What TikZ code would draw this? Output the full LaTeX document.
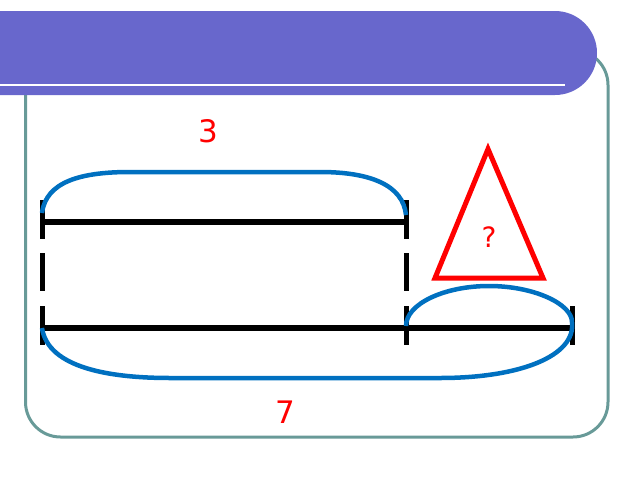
\documentclass[tikz,border=0pt]{standalone}
\usepackage{fontspec}
\setmainfont{DejaVu Sans}
\usepackage{tikz}

\definecolor{barcol}{RGB}{104,103,204}
\definecolor{framecol}{RGB}{104,154,152}
\definecolor{arccol}{RGB}{0,112,192}

\tikzset{
  seg/.style={line width=5.5pt},
  tick/.style={line width=5pt},
  brace/.style={arccol, line width=4.5pt},
  num/.style={text=red, inner sep=0pt, font=\fontsize{31}{36}\selectfont}
}

\begin{document}
\begin{tikzpicture}[x=1pt,y=-1pt]
\useasboundingbox (0,0) rectangle (640,480);

% frame and title bar
\draw[framecol, line width=3pt, rounded corners=35pt] (25.5,50) rectangle (608,437);
\fill[barcol] (0,11) -- (555,11) arc[start angle=90, end angle=-90, radius=42pt] -- (0,95) -- cycle;
\draw[white, line width=2.5pt] (0,85) -- (565,85);

\coordinate (1) at (42,222);
\coordinate (2) at (406,222);
\coordinate (3) at (42,328);
\coordinate (4) at (406,328);
\coordinate (5) at (572,328);

\draw[seg] (1)--(2);
\draw[seg] (3)--(5);

\foreach \point in {1,2}
\draw[tick] ([yshift=22pt]\point) -- ([yshift=-17pt]\point);
\foreach \point in {3,4,5}
\draw[tick] ([yshift=22pt]\point) -- ([yshift=-17pt]\point);
\draw[tick] (42,253) -- (42,291);
\draw[tick] (406,253) -- (406,291);

% braces
\draw[brace] ([yshift=9pt]1) .. controls (46,182) and (80,172) .. (130,172) -- (320,172)
  .. controls (370,172) and (403,185) .. ([yshift=7pt]2);
\draw[brace] (3) .. controls (48,368) and (110,378) .. (170,378) -- (440,378)
  .. controls (520,378) and (576,356) .. ([yshift=6pt]5);
\draw[brace] ([yshift=2pt]4) .. controls (406,304) and (444,286) .. (489,286)
  .. controls (534,286) and (572,304) .. ([yshift=6pt]5);

% triangle
\coordinate (t1) at (488,149);
\coordinate (t2) at (435,278);
\coordinate (t3) at (543,278);
\draw[red, line width=5pt] (t1)--(t2)--(t3)--cycle;

\node[num] (a) at (208.5,131.5) {3};
\node[num] (b) at (285,412) {7};
\node[num, font=\fontsize{28}{32}\selectfont] (c) at (489,237) {?};
\end{tikzpicture}
\end{document}
